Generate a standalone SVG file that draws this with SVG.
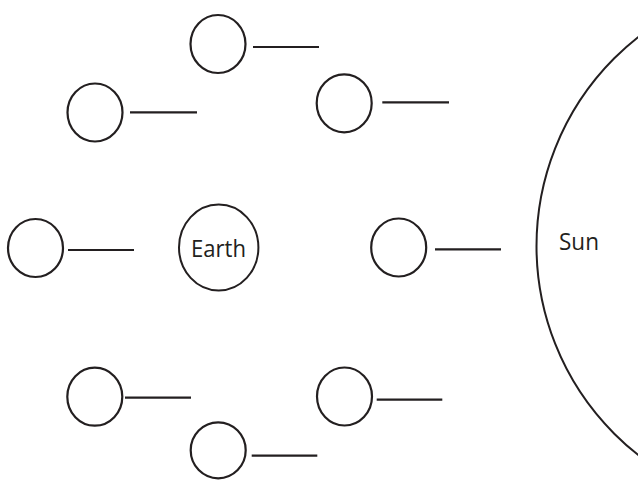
<svg xmlns="http://www.w3.org/2000/svg" width="638" height="481" viewBox="0 0 638 481">
<style>
.moon{fill:none;stroke:#231f20;stroke-width:2.2}
.body{fill:none;stroke:#231f20;stroke-width:2}
.ln{stroke:#231f20;stroke-width:2.2;fill:none}
.lbl{font-family:"Open Sans","Liberation Sans",sans-serif;font-size:24px;fill:#231f20;text-anchor:middle}
</style>
<rect width="638" height="481" fill="#ffffff"/>
<g id="sun">
<circle class="body" cx="802" cy="246" r="265.5"/>
<text class="lbl" x="579" y="249.5" textLength="40" lengthAdjust="spacingAndGlyphs">Sun</text>
</g>
<g id="earth">
<ellipse class="body" cx="218.7" cy="247.5" rx="39.7" ry="43"/>
<text class="lbl" x="218.5" y="256.7" textLength="55" lengthAdjust="spacingAndGlyphs">Earth</text>
</g>
<g id="moon-top"><ellipse class="moon" cx="218" cy="44" rx="27.5" ry="29"/></g>
<g id="moon-upper-left"><ellipse class="moon" cx="95" cy="112.5" rx="27.5" ry="29"/></g>
<g id="moon-upper-right"><ellipse class="moon" cx="344.2" cy="103.3" rx="27.5" ry="29"/></g>
<g id="moon-left"><ellipse class="moon" cx="35.5" cy="248" rx="27.5" ry="29"/></g>
<g id="moon-right"><ellipse class="moon" cx="398.7" cy="247.5" rx="27.5" ry="29"/></g>
<g id="moon-lower-left"><ellipse class="moon" cx="94.8" cy="396.7" rx="27.5" ry="29"/></g>
<g id="moon-lower-right"><ellipse class="moon" cx="344.5" cy="396.5" rx="27.5" ry="29"/></g>
<g id="moon-bottom"><ellipse class="moon" cx="218.2" cy="450.3" rx="27.5" ry="28"/></g>
<g id="connectors">
<line class="ln" x1="253" y1="47" x2="319" y2="47"/>
<line class="ln" x1="130" y1="112.3" x2="197" y2="112.3"/>
<line class="ln" x1="382.3" y1="102.3" x2="449" y2="102.3"/>
<line class="ln" x1="68" y1="250" x2="134" y2="250"/>
<line class="ln" x1="435" y1="249.3" x2="501" y2="249.3"/>
<line class="ln" x1="125" y1="397.7" x2="191" y2="397.7"/>
<line class="ln" x1="376.7" y1="399.7" x2="442.3" y2="399.7"/>
<line class="ln" x1="251.7" y1="455.7" x2="317.3" y2="455.7"/>
</g>
</svg>
